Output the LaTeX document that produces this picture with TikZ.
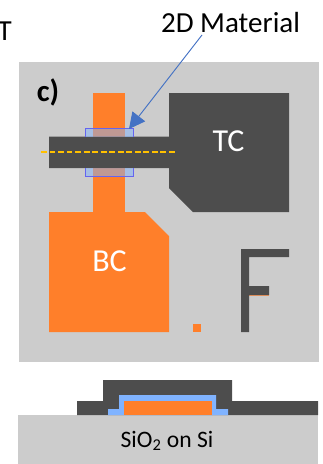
\documentclass[tikz,border=0pt]{standalone}
\usepackage{fontspec}
\setmainfont{Carlito}
\usetikzlibrary{arrows.meta}
\definecolor{bggray}{RGB}{204,204,204}
\definecolor{darkm}{RGB}{77,77,77}
\definecolor{orangem}{RGB}{255,127,42}
\definecolor{bluem}{RGB}{128,179,255}
\definecolor{linkb}{RGB}{68,114,196}
\definecolor{dashy}{RGB}{255,192,0}
\definecolor{flakeline}{RGB}{100,100,240}
\tikzset{
  fillgray/.style={fill=bggray,draw=none},
  filldark/.style={fill=darkm,draw=none},
  fillorange/.style={fill=orangem,draw=none},
  fillblue/.style={fill=bluem,draw=none},
  lab/.style={inner sep=0pt,font=\fontsize{21.8pt}{24pt}\selectfont},
  biglab/.style={inner sep=0pt,text=white,font=\fontsize{24pt}{26pt}\selectfont}
}
\begin{document}
\begin{tikzpicture}[x=0.75pt,y=-0.75pt]
\useasboundingbox (0,0) rectangle (323,464);
% top view
\fill[fillgray] (19,62) rectangle (319,362);
\fill[fillorange] (93,93) rectangle (125,212);
\fill[fillorange] (49,212) -- (145,212) -- (169,236) -- (169,332) -- (49,332) -- cycle;
\fill[filldark] (169,93) -- (289,93) -- (289,212) -- (193,212) -- (169,188) -- (169,168) -- (49,168) -- (49,136.5) -- (169,136.5) -- cycle;
\fill[fill=bluem,fill opacity=0.5] (85,128) rectangle (133,136.5);
\fill[fill=bluem,fill opacity=0.5] (85,168) rectangle (133,176);
\draw[draw=flakeline,line width=0.6pt] (85,136.5) -- (85,128) -- (133,128) -- (133,136.5);
\draw[draw=flakeline,line width=0.6pt] (85,168) -- (85,176) -- (133,176) -- (133,168);
\draw[dashy,line width=1.9pt,dash pattern=on 4.4pt off 2pt] (41,152) -- (175,152);
\fill[fill=orangem!70!bggray] (249,286) rectangle (269,295.7);
\fill[filldark] (241,249) -- (289,249) -- (289,257) -- (249,257) -- (249,286) -- (269,286) -- (269,295) -- (249,295) -- (249,332) -- (241,332) -- cycle;
\fill[fillorange] (193,324) rectangle (201,332);
% labels
\node[biglab] (tc) at (228.5,141) {TC};
\node[biglab] (bc) at (109.5,261) {BC};
\node[inner sep=0pt,font=\fontsize{23pt}{25pt}\selectfont\bfseries] (c) at (48,92) {c)};
\node[lab,anchor=base east] (t) at (12,40) {T};
\node[lab] (mat) at (230.5,23) {2D Material};
\coordinate (mattip) at (202,35);
\coordinate (flk) at (129,129);
\draw[linkb,line width=0.7pt,-{Triangle[length=12pt,width=12pt]}] (mattip) -- (flk);
% cross-section
\fill[fillgray] (18,415) rectangle (318,464);
\fill[filldark] (103,380) -- (232,380) -- (232,401) -- (318,401) -- (318,415) -- (77,415) -- (77,401) -- (103,401) -- cycle;
\fill[fillblue] (108,415) -- (108,409) -- (119,409) -- (119,395) -- (216,395) -- (216,409) -- (228,409) -- (228,415) -- cycle;
\fill[fillorange] (124,401) rectangle (212,415);
\node[inner sep=0pt,font=\fontsize{17.7pt}{20pt}\selectfont] (sio) at (167,441) {SiO\textsubscript{2} on Si};
\end{tikzpicture}
\end{document}
